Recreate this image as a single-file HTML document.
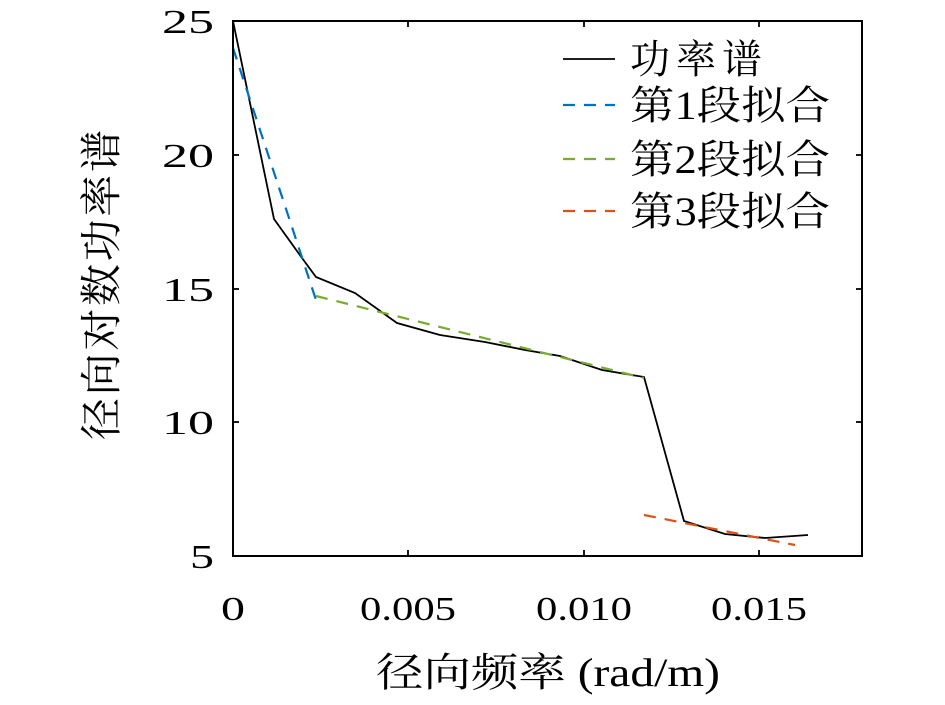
<!DOCTYPE html>
<html><head><meta charset="utf-8"><style>
body{margin:0;background:#fff;}
svg text{font-family:"Liberation Serif","Noto Serif CJK SC",serif;fill:#000;}
</style></head><body>
<svg width="945" height="700" xmlns="http://www.w3.org/2000/svg">
<rect width="945" height="700" fill="#fff"/>
<g stroke="#000" stroke-width="1.8">
<line x1="408" y1="556" x2="408" y2="550"/><line x1="584" y1="556" x2="584" y2="550"/><line x1="759" y1="556" x2="759" y2="550"/>
<line x1="408" y1="21" x2="408" y2="27"/><line x1="584" y1="21" x2="584" y2="27"/><line x1="759" y1="21" x2="759" y2="27"/>
<line x1="233" y1="155" x2="239" y2="155"/><line x1="233" y1="289" x2="239" y2="289"/><line x1="233" y1="422" x2="239" y2="422"/>
<line x1="862" y1="155" x2="856" y2="155"/><line x1="862" y1="289" x2="856" y2="289"/><line x1="862" y1="422" x2="856" y2="422"/>
</g>
<polyline fill="none" stroke="#000" stroke-width="1.8" points="233,21 274,219 302,258 316,277 355,293 397,323 440,335 485,342 525,350 560,356 602,370 644,377 684,521 725,534 765,538 808,535"/>
<line x1="233" y1="48" x2="316" y2="300" stroke="#0072bd" stroke-width="2.2" stroke-dasharray="12,9"/>
<line x1="316" y1="296" x2="644" y2="378" stroke="#77ac30" stroke-width="2.2" stroke-dasharray="12,9"/>
<line x1="644" y1="515" x2="795" y2="545" stroke="#d95319" stroke-width="2.2" stroke-dasharray="12,9"/>
<rect x="233" y="21" width="629" height="535" fill="none" stroke="#000" stroke-width="2"/>
<g font-size="34" text-anchor="end">
<text x="214" y="33" textLength="52" lengthAdjust="spacingAndGlyphs">25</text><text x="214" y="167" textLength="52" lengthAdjust="spacingAndGlyphs">20</text><text x="214" y="301" textLength="52" lengthAdjust="spacingAndGlyphs">15</text><text x="214" y="434" textLength="52" lengthAdjust="spacingAndGlyphs">10</text><text x="214" y="568" textLength="24" lengthAdjust="spacingAndGlyphs">5</text>
</g>
<g font-size="34" text-anchor="middle">
<text x="233" y="620" textLength="24" lengthAdjust="spacingAndGlyphs">0</text>
<text x="408" y="620" textLength="96" lengthAdjust="spacingAndGlyphs">0.005</text><text x="584" y="620" textLength="96" lengthAdjust="spacingAndGlyphs">0.010</text><text x="759" y="620" textLength="96" lengthAdjust="spacingAndGlyphs">0.015</text>
<text x="548" y="686" font-size="40" textLength="344" lengthAdjust="spacingAndGlyphs">径向频率 (rad/m)</text>
<text transform="translate(116,285) rotate(-90)" font-size="42" textLength="310">径向对数功率谱</text>
</g>
<g font-size="40">
<line x1="563" y1="59" x2="615" y2="59" stroke="#000" stroke-width="1.8"/>
<line x1="563" y1="105" x2="615" y2="105" stroke="#0072bd" stroke-width="2.2" stroke-dasharray="12,9"/>
<line x1="563" y1="159" x2="615" y2="159" stroke="#77ac30" stroke-width="2.2" stroke-dasharray="12,9"/>
<line x1="563" y1="211" x2="615" y2="211" stroke="#d95319" stroke-width="2.2" stroke-dasharray="12,9"/>
<text x="630" y="73" textLength="132">功率谱</text>
<text x="630" y="119" textLength="200" lengthAdjust="spacingAndGlyphs">第1段拟合</text>
<text x="630" y="173" textLength="200" lengthAdjust="spacingAndGlyphs">第2段拟合</text>
<text x="630" y="225" textLength="200" lengthAdjust="spacingAndGlyphs">第3段拟合</text>
</g>
</svg>
</body></html>
